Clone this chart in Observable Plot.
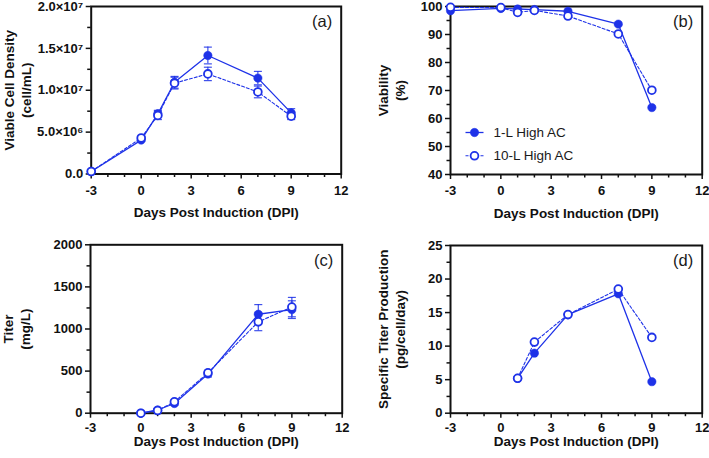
<!DOCTYPE html>
<html>
<head>
<meta charset="utf-8">
<script src="https://cdn.jsdelivr.net/npm/d3@7"></script>
<script src="https://cdn.jsdelivr.net/npm/@observablehq/plot@0.6"></script>
<style>
  html, body { margin: 0; padding: 0; background: #fff; }
  #fig { position: relative; width: 709px; height: 458px; background: #fff; overflow: hidden; }
  #fig > div { position: absolute; }
  #fig svg { display: block; }
</style>
</head>
<body>
<div id="fig">
  <div id="pa" style="left:0px;top:0px"></div>
  <div id="pb" style="left:355px;top:0px"></div>
  <div id="pc" style="left:0px;top:229px"></div>
  <div id="pd" style="left:355px;top:229px"></div>
</div>
<script>
// Sampling days (days post induction)
const days = [-3, 0, 1, 2, 4, 7, 9];

// (a) Viable cell density, cell/mL (mean and error)
const vcd1L     = [0.3e6, 4.05e6, 7.2e6, 10.95e6, 14.15e6, 11.45e6, 7.3e6];
const vcd1LErr  = [0.1e6, 0.15e6, 0.4e6, 0.7e6, 1.0e6, 0.8e6, 0.5e6];
const vcd10L    = [0.3e6, 4.3e6, 7.0e6, 10.85e6, 11.95e6, 9.8e6, 6.9e6];
const vcd10LErr = [0.1e6, 0.2e6, 0.5e6, 0.7e6, 0.8e6, 0.7e6, 0.4e6];

// (b) Viability, %
const via1L  = [98.5, 99.3, 99.1, 98.9, 98.3, 93.7, 63.9];
const via10L = [99.7, 99.6, 97.9, 98.6, 96.6, 90.2, 70.1];

// (c) Titer, mg/L
const titerDays   = [0, 1, 2, 4, 7, 9];
const titer1L     = [0, 38, 115, 465, 1175, 1230];
const titer1LErr  = [0, 10, 20, 35, 115, 105];
const titer10L    = [0, 32, 135, 480, 1085, 1260];
const titer10LErr = [0, 10, 20, 30, 105, 115];

// (d) Specific titer production, pg/cell/day
const qpDays = [1, 2, 4, 7, 9];
const qp1L   = [5.2, 8.95, 14.7, 17.8, 4.7];
const qp10L  = [5.2, 10.6, 14.7, 18.5, 11.3];

// Series names
const seriesNames = ["1-L High AC", "10-L High AC"];

// Axis ticks and labels
const xMajor = [-3, 0, 3, 6, 9, 12];
const xMinor = [-2, -1, 1, 2, 4, 5, 7, 8, 10, 11];
const vcdTicks = [0, 5e6, 1e7, 1.5e7, 2e7];
const vcdTickLabels = ["0.0", "5.0×10⁶", "1.0×10⁷", "1.5×10⁷", "2.0×10⁷"];
const vcdMinor = [2.5e6, 7.5e6, 1.25e7, 1.75e7];
const viaTicks = [40, 50, 60, 70, 80, 90, 100];
const viaMinor = [45, 55, 65, 75, 85, 95];
const titerTicks = [0, 500, 1000, 1500, 2000];
const titerMinor = [250, 750, 1250, 1750];
const qpTicks = [0, 5, 10, 15, 20, 25];
const qpMinor = [2.5, 7.5, 12.5, 17.5, 22.5];

const blue = "#1e32e8";
const ink = "#111";
const font = "'Liberation Sans', Arial, Helvetica, sans-serif";

const rows = (xs, vs, es) => xs.map((x, i) => ({x, v: vs[i], e: es ? es[i] : 0}));

// Small horizontal strokes used for error-bar caps and legend keys
const capSymbol = {draw(ctx) { ctx.moveTo(-4, 0); ctx.lineTo(4, 0); }};
const keySymbol = {draw(ctx) { ctx.moveTo(-9, 0); ctx.lineTo(9, 0); }};

// Marker and line styles of the two series
const solidLine = {stroke: blue, strokeWidth: 1.3};
const dashedLine = {stroke: blue, strokeWidth: 1.1, strokeDasharray: "3,2"};
const solidDot = {r: 4.2, fill: blue, stroke: blue, strokeWidth: 0.5};
const openDot = {r: 3.9, fill: "white", stroke: blue, strokeWidth: 1.8};

function seriesMarks(solid, dashed, withErrors) {
  const marks = [];
  if (withErrors) {
    const bar = {stroke: blue, strokeWidth: 1.2, strokeOpacity: 0.85};
    for (const s of [solid, dashed]) {
      marks.push(
        Plot.ruleX(s, {x: "x", y1: d => d.v - d.e, y2: d => d.v + d.e, ...bar}),
        Plot.dot(s, {x: "x", y: d => d.v + d.e, symbol: capSymbol, fill: "none", ...bar}),
        Plot.dot(s, {x: "x", y: d => d.v - d.e, symbol: capSymbol, fill: "none", ...bar})
      );
    }
  }
  marks.push(
    Plot.line(dashed, {x: "x", y: "v", ...dashedLine}),
    Plot.line(solid, {x: "x", y: "v", ...solidLine}),
    Plot.dot(solid, {x: "x", y: "v", ...solidDot}),
    Plot.dot(dashed, {x: "x", y: "v", ...openDot})
  );
  return marks;
}

function panel(opts) {
  const {
    width, height, margin, yDomain, yTicks, yMinor, yFormat, yTitle, tag,
    titleDx, xTickPad, xTitleDy, series, legend
  } = opts;
  const marks = [
    Plot.frame({stroke: ink, strokeWidth: 2}),
    Plot.axisX(xMajor, {tickSize: 5, tickPadding: xTickPad, strokeWidth: 1.5, stroke: ink, fill: ink,
      fontSize: 13, fontWeight: "bold", label: null, tickFormat: d => String(d)}),
    Plot.axisX(xMinor, {tickSize: 3.5, strokeWidth: 1.5, stroke: ink, label: null, tickFormat: () => ""}),
    Plot.axisY(yTicks, {tickSize: 5, tickPadding: 3, strokeWidth: 1.5, stroke: ink, fill: ink,
      fontSize: 13, fontWeight: "bold", label: null, tickFormat: yFormat}),
    Plot.axisY(yMinor, {tickSize: 3.5, strokeWidth: 1.5, stroke: ink, label: null, tickFormat: () => ""}),
    ...series,
    Plot.text([tag], {frameAnchor: "top-right", text: d => d, dx: -9, dy: 9, lineAnchor: "top",
      textAnchor: "end", fontSize: 16.5, fontWeight: "normal", fill: "#1a1a1a"}),
    Plot.text([yTitle], {frameAnchor: "left", text: d => d, rotate: -90, dx: titleDx, textAnchor: "middle",
      lineAnchor: "middle", lineHeight: 1.25, fontSize: 13.5, fontWeight: "bold", fill: ink}),
    Plot.text(["Days Post Induction (DPI)"], {frameAnchor: "bottom", text: d => d, dy: xTitleDy,
      textAnchor: "middle", lineAnchor: "middle", fontSize: 13.5, fontWeight: "bold", fill: ink})
  ];
  if (legend) marks.push(...legend);
  return Plot.plot({
    width, height,
    marginTop: margin[0], marginRight: margin[1], marginBottom: margin[2], marginLeft: margin[3],
    style: {fontFamily: font, background: "white", color: ink, overflow: "visible"},
    x: {domain: [-3, 12]},
    y: {domain: yDomain},
    marks
  });
}

const fmtFrom = (ticks, labels) => d => labels[ticks.indexOf(d)];

// (a) Viable cell density
document.getElementById("pa").append(panel({
  width: 355, height: 229, margin: [6, 14.3, 55.5, 90.7],
  yDomain: [0, 2e7], yTicks: vcdTicks, yMinor: vcdMinor, yFormat: fmtFrom(vcdTicks, vcdTickLabels),
  yTitle: "Viable Cell Density\n(cell/mL)", tag: "(a)", titleDx: -74, xTickPad: 6.5, xTitleDy: 39,
  series: seriesMarks(rows(days, vcd1L, vcd1LErr), rows(days, vcd10L, vcd10LErr), true)
}));

// (b) Viability, with the series key in the lower-left of the frame
const keyStyles = [
  {line: solidLine, dot: solidDot},
  {line: dashedLine, dot: openDot}
];
const legendMarks = seriesNames.flatMap((name, i) => {
  const dy = 126 + i * 23.3;
  const {line, dot} = keyStyles[i];
  return [
    Plot.dot([name], {frameAnchor: "top-left", dx: 24, dy, symbol: keySymbol, ...line, fill: "none"}),
    Plot.dot([name], {frameAnchor: "top-left", dx: 24, dy, ...dot}),
    Plot.text([name], {frameAnchor: "top-left", dx: 43, dy, text: d => d, textAnchor: "start",
      lineAnchor: "middle", fontSize: 13.5, fontWeight: "normal", fill: "#1a1a1a"})
  ];
});

document.getElementById("pb").append(panel({
  width: 354, height: 229, margin: [6, 7.3, 55, 95],
  yDomain: [40, 100], yTicks: viaTicks, yMinor: viaMinor, yFormat: d => String(d),
  yTitle: "Viability\n(%)", tag: "(b)", titleDx: -59, xTickPad: 6.5, xTitleDy: 39,
  series: seriesMarks(rows(days, via1L), rows(days, via10L), false),
  legend: legendMarks
}));

// (c) Titer
document.getElementById("pc").append(panel({
  width: 355, height: 229, margin: [15.3, 13.3, 45.3, 90],
  yDomain: [0, 2000], yTicks: titerTicks, yMinor: titerMinor, yFormat: d => String(d),
  yTitle: "Titer\n(mg/L)", tag: "(c)", titleDx: -74, xTickPad: 4.5, xTitleDy: 28,
  series: seriesMarks(rows(titerDays, titer1L, titer1LErr), rows(titerDays, titer10L, titer10LErr), true)
}));

// (d) Specific titer production
document.getElementById("pd").append(panel({
  width: 354, height: 229, margin: [16, 7.3, 45.3, 95],
  yDomain: [0, 25], yTicks: qpTicks, yMinor: qpMinor, yFormat: d => String(d),
  yTitle: "Specific Titer Production\n(pg/cell/day)", tag: "(d)", titleDx: -59, xTickPad: 4.5, xTitleDy: 28,
  series: seriesMarks(rows(qpDays, qp1L), rows(qpDays, qp10L), false)
}));
</script>
</body>
</html>
